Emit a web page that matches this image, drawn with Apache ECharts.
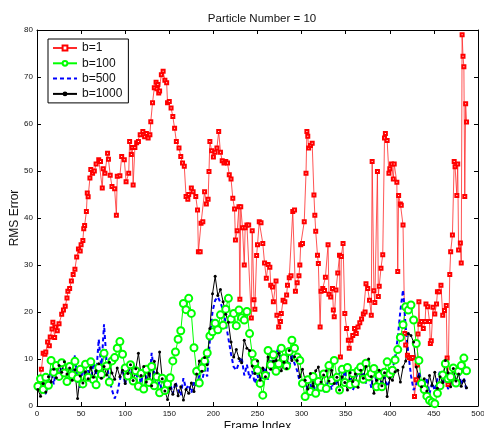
<!DOCTYPE html>
<html>
<head>
<meta charset="utf-8">
<script src="https://cdn.jsdelivr.net/npm/echarts@6/dist/echarts.min.js"></script>
<style>
    html, body { margin: 0; padding: 0; background: #fff; }
    #chart { width: 484px; height: 428px; }
</style>
</head>
<body>
<div id="chart"></div>
<script>
// 图例名称
var seriesNames = ['b=1', 'b=100', 'b=500', 'b=1000'];

// 坐标轴刻度
var xTicks = [0, 50, 100, 150, 200, 250, 300, 350, 400, 450, 500];
var yTicks = [0, 10, 20, 30, 40, 50, 60, 70, 80];

// b=1: [帧序号, RMS误差]
var rmsB1 = [
    [1, 4.5], [3, 5.3], [5, 7.8], [7, 11.2], [9, 11.0], [10, 11.5], [12, 13.6], [14, 12.8], [15, 14.7], [17, 16.4],
    [18, 17.8], [20, 14.6], [21, 16.8], [23, 16.0], [25, 17.5], [28, 19.5], [30, 20.4], [32, 21.2], [34, 23.0], [35, 24.4],
    [37, 25.0], [39, 26.6], [41, 28.0], [43, 29.1], [45, 31.7], [47, 33.4], [49, 33.0], [50, 34.3], [52, 35.2], [53, 37.7],
    [54, 38.4], [56, 41.4], [57, 45.3], [58, 44.5], [60, 48.5], [61, 50.3], [63, 49.5], [65, 50.0], [67, 51.5], [70, 52.4],
    [72, 52.0], [74, 46.4], [75, 50.5], [77, 49.5], [80, 53.8], [81, 52.5], [83, 49.1], [85, 46.7], [88, 46.2], [90, 40.6],
    [91, 48.9], [94, 49.0], [96, 53.1], [99, 52.4], [101, 47.7], [104, 49.5], [105, 56.3], [107, 53.5], [108, 55.0], [109, 47.0],
    [111, 55.0], [113, 56.0], [115, 56.3], [117, 57.7], [120, 58.4], [122, 57.3], [124, 58.0], [126, 57.0], [128, 57.7], [129, 60.5],
    [131, 64.5], [133, 67.7], [135, 68.9], [136, 67.5], [137, 68.4], [138, 66.6], [139, 67.0], [141, 70.5], [143, 71.2], [145, 69.3],
    [147, 68.8], [148, 64.5], [150, 64.8], [152, 63.4], [154, 61.6], [156, 59.1], [158, 56.3], [161, 54.9], [163, 53.1], [165, 51.7],
    [167, 51.0], [169, 44.6], [171, 44.0], [172, 45.0], [175, 46.4], [177, 45.6], [180, 44.6], [182, 41.7], [183, 32.8], [185, 32.8],
    [186, 38.9], [188, 39.2], [190, 45.6], [192, 43.0], [194, 44.0], [195, 49.9], [196, 56.3], [198, 54.3], [200, 53.0], [202, 54.0],
    [204, 54.9], [206, 58.4], [208, 54.0], [210, 52.2], [212, 51.7], [214, 52.0], [216, 51.7], [218, 49.2], [220, 48.3], [222, 44.2],
    [224, 41.9], [225, 35.3], [227, 37.3], [229, 42.4], [230, 22.7], [231, 42.4], [233, 37.9], [235, 30.0], [236, 37.9], [238, 38.5],
    [240, 38.5], [243, 18.7], [244, 37.3], [246, 22.6], [247, 20.6], [249, 32.0], [250, 34.3], [252, 39.2], [254, 39.0], [256, 34.6],
    [258, 30.4], [260, 27.2], [262, 30.1], [264, 29.5], [265, 25.7], [267, 25.3], [268, 22.2], [271, 26.6], [272, 19.3], [274, 16.8],
    [276, 18.0], [277, 19.7], [279, 22.5], [281, 22.2], [283, 23.6], [284, 25.7], [286, 27.3], [288, 27.7], [290, 41.4], [292, 41.7],
    [293, 24.4], [295, 26.2], [297, 27.7], [298, 30.0], [299, 34.3], [301, 34.6], [303, 39.2], [305, 49.5], [306, 58.4], [307, 57.4],
    [308, 54.9], [310, 55.4], [312, 55.9], [314, 44.9], [315, 40.6], [316, 37.2], [318, 32.1], [319, 30.3], [321, 16.8], [322, 24.4],
    [324, 25.0], [326, 24.6], [327, 27.4], [330, 34.3], [331, 23.8], [333, 23.2], [335, 25.0], [336, 20.4], [337, 19.0], [339, 24.7],
    [341, 28.3], [343, 32.1], [344, 10.4], [345, 31.8], [347, 34.6], [349, 19.7], [351, 16.5], [353, 14.0], [354, 12.3], [356, 14.0],
    [358, 15.0], [360, 16.5], [362, 15.4], [364, 16.8], [366, 17.7], [368, 18.5], [370, 19.6], [372, 20.0], [373, 26.0], [375, 25.0],
    [377, 22.5], [379, 19.3], [380, 52.0], [382, 24.5], [383, 22.0], [386, 49.9], [387, 23.3], [388, 25.5], [390, 29.3], [392, 32.2],
    [394, 57.0], [395, 58.0], [397, 56.5], [399, 49.5], [400, 50.5], [402, 51.5], [404, 48.3], [405, 51.5], [408, 47.6], [409, 28.6],
    [410, 44.8], [412, 43.0], [413, 42.7], [415, 38.5], [417, 15.4], [418, 13.0], [420, 10.8], [422, 10.3], [424, 10.1], [426, 10.3],
    [428, 2.0], [430, 5.6], [431, 8.7], [432, 15.3], [433, 22.2], [434, 17.4], [436, 18.0], [438, 16.5], [440, 18.0], [441, 21.7],
    [443, 21.1], [445, 18.0], [446, 13.3], [447, 13.9], [449, 21.0], [451, 19.6], [453, 21.7], [454, 24.3], [456, 24.3], [458, 25.7],
    [460, 19.3], [462, 20.3], [464, 21.4], [465, 10.2], [466, 4.6], [468, 28.0], [469, 32.8], [471, 36.4], [473, 52.0], [474, 50.9],
    [476, 44.8], [477, 51.5], [478, 33.2], [480, 34.7], [481, 30.4], [482, 79.0], [483, 74.4], [484, 72.2], [485, 44.6], [486, 64.3],
    [487, 60.4]
];

// b=100 / b=500 / b=1000 每3帧读一个值 (帧 1, 4, 7, ... 487)
var rmsB100 = [
    4.2, 5.8, 3.5, 6.1, 4.4, 9.7, 7.2, 8.6, 6.3, 9.2,
    7.0, 5.2, 8.4, 6.6, 9.5, 5.9, 7.8, 4.7, 8.9, 6.1,
    9.4, 5.6, 4.5, 8.2, 6.7, 11.2, 8.5, 5.1, 9.6, 10.3,
    12.3, 13.7, 11.0, 8.1, 6.4, 8.8, 5.3, 7.5, 4.2, 6.9,
    3.6, 7.8, 5.0, 8.4, 4.3, 6.2, 2.8, 5.9, 3.3, 4.7,
    6.0, 9.6, 11.5, 14.2, 16.0, 21.8, 20.5, 22.9, 19.7, 12.4,
    7.4, 4.9, 8.1, 9.6, 11.3, 14.9, 15.8, 17.6, 16.2, 19.4,
    17.2, 20.6, 22.9, 18.5, 19.7, 17.1, 20.4, 18.8, 18.3, 20.1,
    15.4, 11.1, 9.2, 7.6, 4.8, 2.3, 6.5, 11.8, 8.7, 10.9,
    7.4, 9.0, 12.3, 10.2, 8.5, 11.6, 14.0, 12.3, 10.4, 9.7,
    4.8, 2.0, 5.6, 3.1, 6.3, 2.7, 5.2, 4.0, 6.8, 3.7,
    8.6, 5.4, 9.7, 6.1, 3.4, 7.8, 5.0, 8.2, 4.6, 6.9,
    4.8, 7.5, 8.3, 5.7, 9.1, 6.2, 6.9, 8.0, 4.1, 6.5,
    4.1, 7.2, 9.4, 6.8, 7.6, 9.8, 12.0, 14.6, 17.3, 21.1,
    20.4, 21.5, 18.3, 13.3, 9.7, 4.8, 3.5, 2.1, 1.2, 0.8,
    0.5, 2.7, 4.3, 6.6, 9.0, 5.8, 6.2, 8.1, 4.9, 7.4,
    8.6, 10.2, 7.5
];

var rmsB500 = [
    4.8, 3.2, 6.1, 2.5, 5.4, 7.9, 4.6, 8.2, 5.5, 9.1,
    6.2, 8.7, 4.9, 7.1, 10.8, 5.3, 3.9, 8.4, 6.0, 7.6,
    4.9, 9.2, 6.5, 14.2, 8.0, 17.4, 9.1, 5.7, 3.4, 1.6,
    2.8, 5.6, 7.9, 4.5, 8.6, 6.1, 9.3, 5.2, 7.4, 4.8,
    8.1, 5.9, 4.2, 11.3, 6.7, 3.8, 5.2, 3.1, 4.6, 2.9,
    4.8, 2.6, 5.1, 3.4, 2.2, 5.9, 3.6, 4.5, 2.8, 5.4,
    4.0, 6.5, 5.2, 7.8, 6.3, 14.0, 20.1, 22.5, 23.2, 22.0,
    20.4, 17.6, 14.4, 11.0, 8.3, 7.6, 9.2, 10.4, 6.5, 8.8,
    5.9, 7.4, 4.8, 6.6, 4.1, 7.0, 8.2, 5.6, 9.7, 7.9,
    11.0, 12.6, 8.8, 9.7, 10.9, 8.2, 11.1, 9.0, 7.5, 5.1,
    4.1, 5.8, 3.0, 4.7, 2.6, 5.3, 3.4, 4.6, 2.8, 4.0,
    5.7, 3.5, 6.2, 4.4, 7.1, 5.0, 7.6, 4.2, 5.9, 3.4,
    4.6, 8.3, 6.0, 7.2, 4.8, 6.5, 3.9, 7.6, 5.1, 7.6,
    4.1, 6.2, 4.1, 5.5, 7.8, 10.4, 14.5, 20.3, 24.7, 16.8,
    11.2, 6.5, 3.4, 4.6, 7.2, 5.0, 3.1, 6.0, 2.6, 4.9,
    3.3, 5.8, 7.4, 4.4, 6.7, 3.6, 4.8, 7.1, 5.3, 7.6,
    4.5, 6.0, 3.2
];

var rmsB1000 = [
    3.5, 2.1, 4.8, 3.0, 6.2, 5.1, 7.8, 6.0, 8.6, 7.2,
    9.4, 6.8, 8.1, 5.5, 7.7, 1.6, 6.4, 4.9, 7.3, 5.8,
    8.2, 6.1, 7.5, 9.0, 5.9, 8.4, 6.6, 9.3, 7.0, 5.7,
    8.1, 6.2, 7.6, 4.8, 6.9, 8.8, 5.4, 7.9, 11.2, 6.5,
    8.4, 5.1, 6.9, 4.3, 9.5, 7.1, 11.5, 5.8, 3.2, 1.4,
    3.8, 2.5, 4.6, 2.2, 4.1, 1.3, 3.5, 2.7, 4.9, 3.1,
    6.8, 9.6, 7.4, 10.3, 8.8, 16.5, 23.9, 27.6, 23.5, 24.8,
    22.2, 19.5, 17.8, 13.6, 10.4, 12.0, 10.1, 9.2, 14.0, 12.3,
    11.8, 8.5, 6.9, 9.6, 5.5, 8.1, 6.2, 10.4, 7.8, 9.5,
    9.7, 11.2, 7.5, 9.3, 8.0, 11.8, 9.7, 10.5, 9.7, 6.2,
    7.8, 5.5, 3.6, 6.9, 4.2, 7.5, 8.3, 5.1, 6.6, 7.5,
    5.3, 7.6, 4.8, 6.1, 3.4, 6.2, 5.0, 3.4, 7.1, 5.2,
    6.8, 4.0, 7.6, 5.9, 8.4, 10.0, 6.3, 2.7, 5.5, 7.6,
    4.3, 7.1, 2.0, 5.9, 5.5, 7.3, 7.6, 5.1, 8.3, 9.6,
    15.4, 15.0, 13.6, 8.3, 6.2, 4.1, 5.8, 3.2, 6.5, 4.4,
    7.2, 3.8, 6.2, 5.0, 9.7, 7.1, 4.1, 8.0, 5.3, 6.8,
    4.2, 5.5, 3.9
];

/**
 * 把每3帧的读数配上帧序号
 */
function withFrames(values) {
    var data = [];
    for (var i = 0; i < values.length; i++) {
        data.push([1 + i * 3, values[i]]);
    }
    return data;
}

var fontFamily = 'Liberation Sans, Arial, sans-serif';

function boxAxis(position, ticks, showLabel, name) {
    var axis = {
        type: 'value',
        position: position,
        min: ticks[0],
        max: ticks[ticks.length - 1],
        interval: ticks[1] - ticks[0],
        axisLine: {show: true, onZero: false, lineStyle: {color: '#000', width: 1}},
        axisTick: {show: true, inside: true, length: 4, lineStyle: {color: '#000'}},
        axisLabel: {show: showLabel, color: '#111', fontSize: 8, margin: 4, fontFamily: fontFamily},
        splitLine: {show: false}
    };
    if (name) {
        axis.name = name;
        axis.nameLocation = 'middle';
        axis.nameMoveOverlap = false;
        axis.nameTextStyle = {color: '#111', fontSize: 12, fontFamily: fontFamily};
    }
    return axis;
}

var chart = echarts.init(document.getElementById('chart'));

var xBottom = boxAxis('bottom', xTicks, true, 'Frame Index');
xBottom.nameGap = 15;
var yLeft = boxAxis('left', yTicks, true, 'RMS Error');
yLeft.nameGap = 16;

var option = {
    animation: false,
    backgroundColor: '#fff',
    title: {
        text: 'Particle Number = 10',
        left: 257,
        textAlign: 'center',
        top: 8,
        textStyle: {color: '#111', fontSize: 11.5, fontWeight: 'normal', fontFamily: fontFamily}
    },
    grid: {
        left: 37,
        right: 6,
        top: 30,
        bottom: 22,
        containLabel: false,
        outerBoundsMode: 'none'
    },
    legend: {
        data: [
            {name: 'b=1'},
            {name: 'b=100'},
            {name: 'b=500', itemStyle: {opacity: 0}},
            {name: 'b=1000'}
        ],
        orient: 'vertical',
        left: 48,
        top: 39,
        padding: [3, 6, 3, 4],
        itemWidth: 24,
        itemHeight: 6,
        itemGap: 3.3,
        backgroundColor: '#fff',
        borderColor: '#000',
        borderWidth: 1,
        borderRadius: 0,
        textStyle: {color: '#111', fontSize: 12, fontFamily: fontFamily}
    },
    xAxis: [xBottom, boxAxis('top', xTicks, false)],
    yAxis: [yLeft, boxAxis('right', yTicks, false)],
    series: [
        {
            name: 'b=1',
            type: 'line',
            data: rmsB1,
            symbol: 'emptyRect',
            symbolSize: 3,
            showAllSymbol: true,
            color: '#ff0000',
            lineStyle: {width: 0.8, color: '#ff2a2a'},
            itemStyle: {color: '#ff0000', borderWidth: 0.8}
        },
        {
            name: 'b=100',
            type: 'line',
            data: withFrames(rmsB100),
            symbol: 'emptyCircle',
            symbolSize: 7,
            showAllSymbol: true,
            color: '#00ff00',
            lineStyle: {width: 1, color: '#00ff00'},
            itemStyle: {color: '#00ff00', borderWidth: 1}
        },
        {
            name: 'b=500',
            type: 'line',
            data: withFrames(rmsB500),
            symbol: 'none',
            color: '#0000ff',
            lineStyle: {width: 2, type: [4, 3], color: '#0000ff'}
        },
        {
            name: 'b=1000',
            type: 'line',
            data: withFrames(rmsB1000),
            symbol: 'circle',
            symbolSize: 3,
            showAllSymbol: true,
            color: '#000',
            lineStyle: {width: 1, color: '#000'},
            itemStyle: {color: '#000'}
        }
    ]
};

chart.setOption(option);
</script>
</body>
</html>
